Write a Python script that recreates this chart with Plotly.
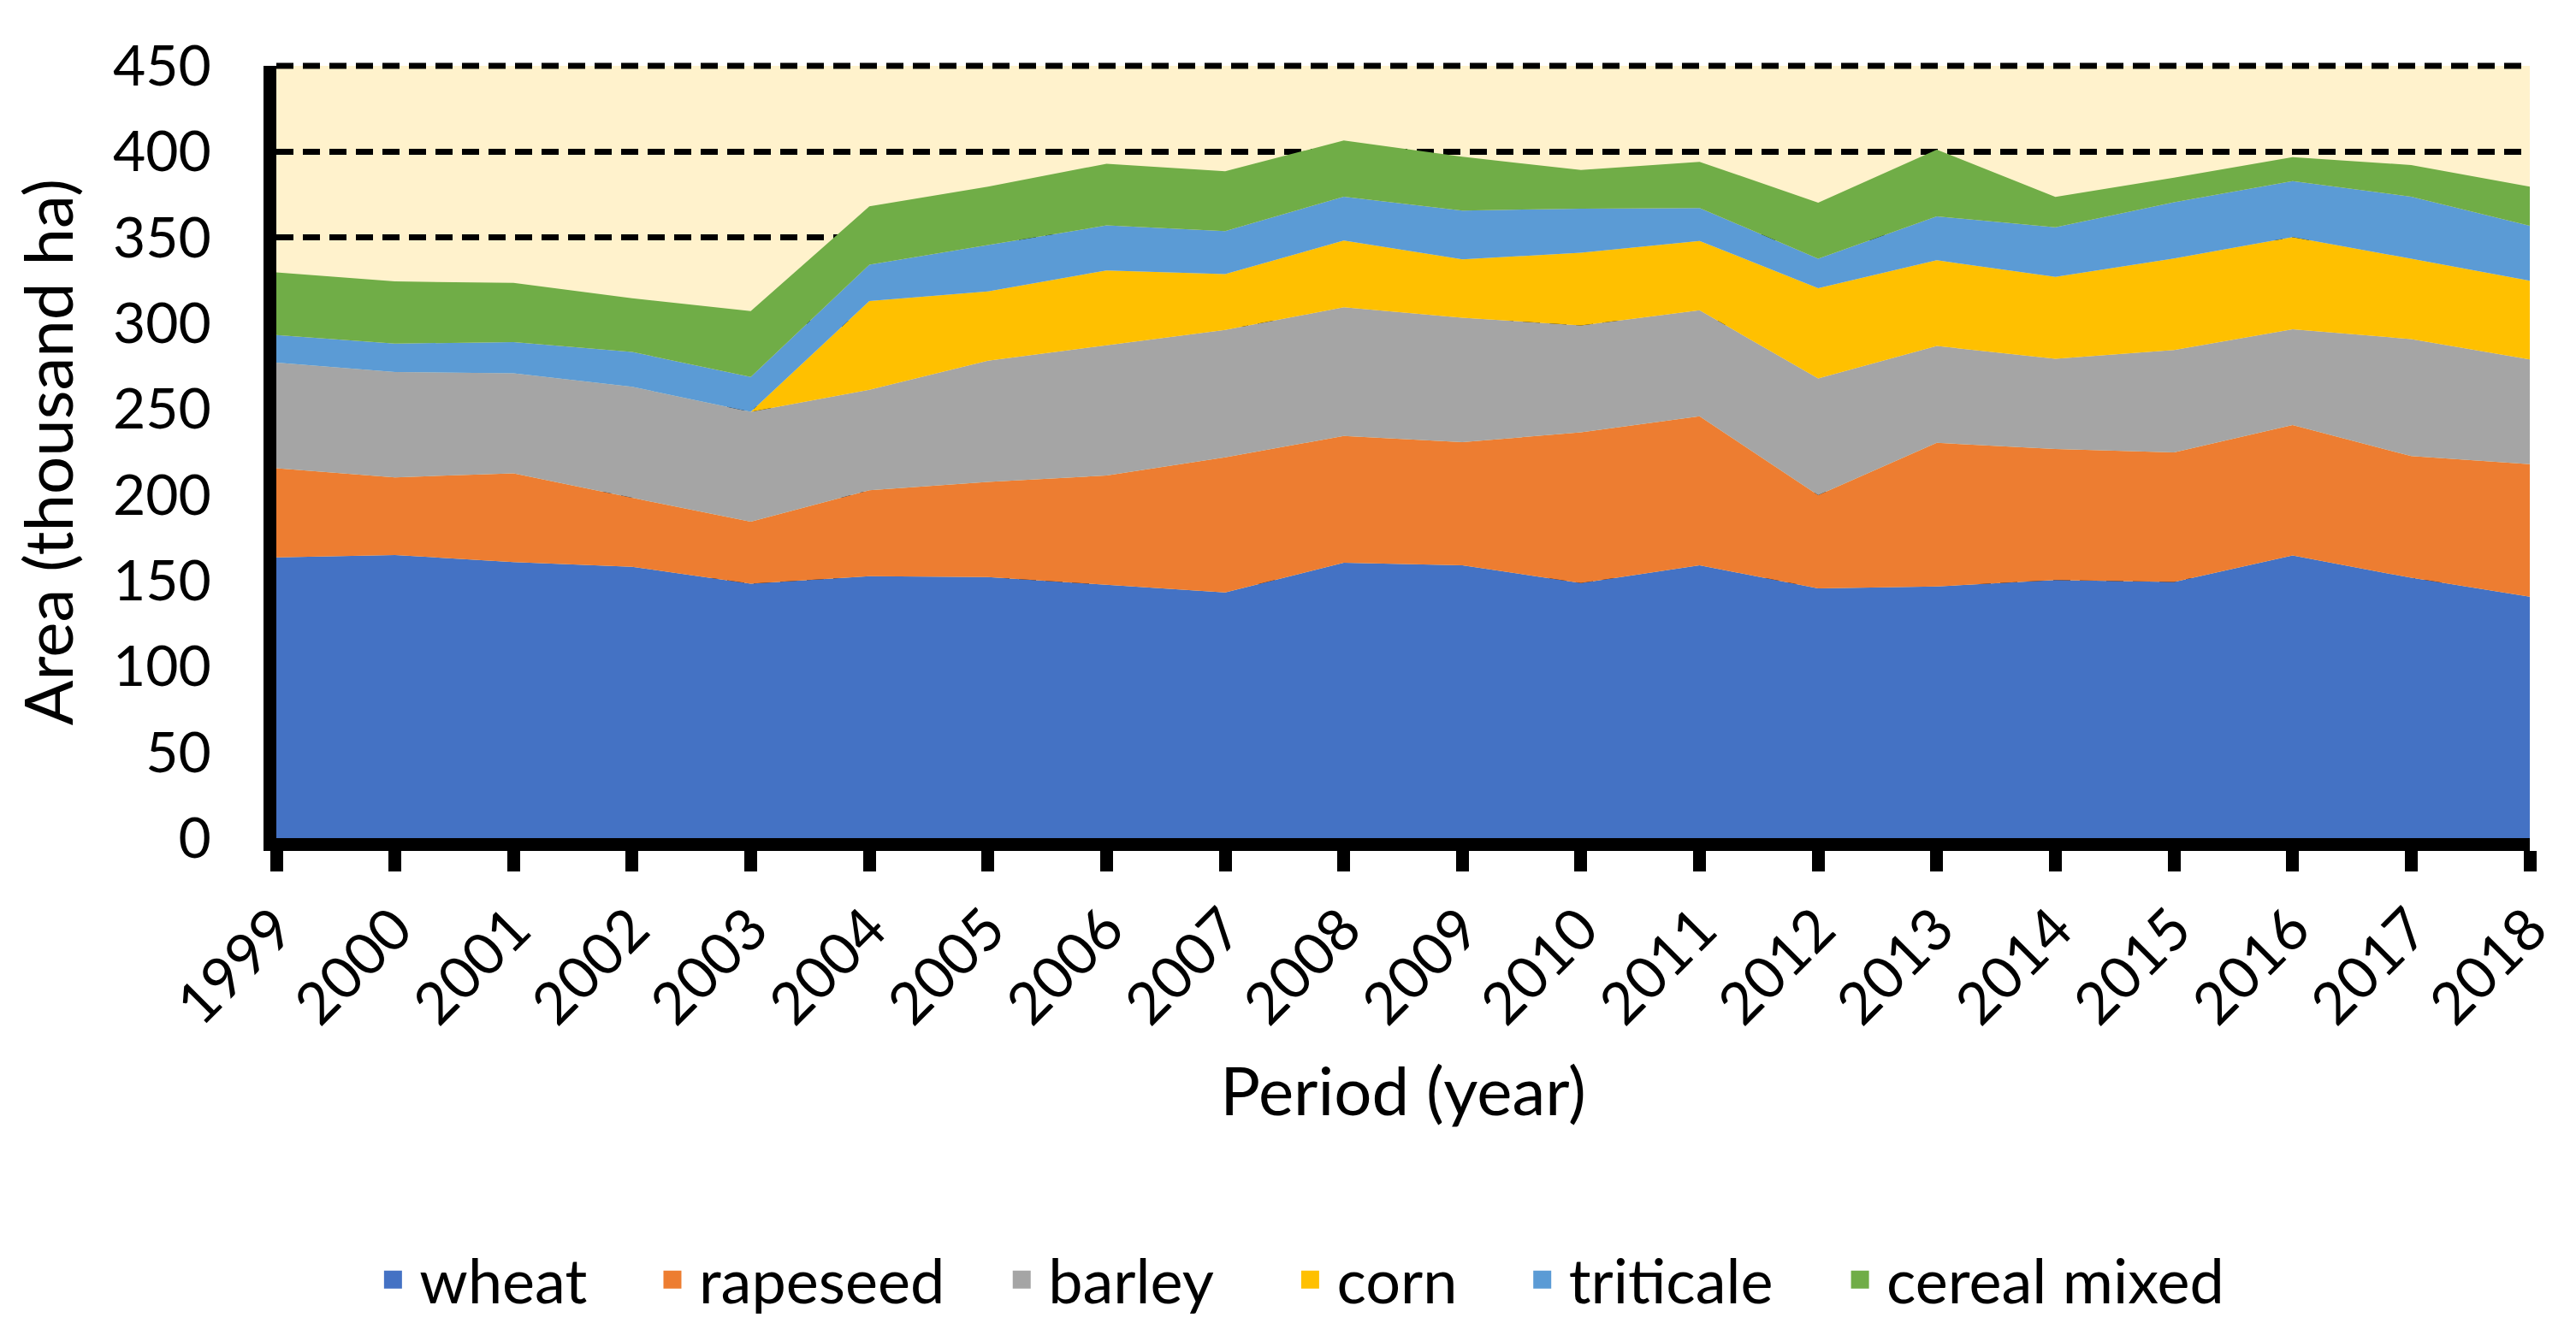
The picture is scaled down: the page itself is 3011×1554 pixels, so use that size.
import plotly.graph_objects as go

years = list(range(1999, 2019))

# areas in thousand ha
wheat = [163.6, 165.0, 160.8, 158.1, 148.2, 152.6, 152.1, 147.5, 143.1, 160.5,
         159.0, 148.6, 159.0, 145.5, 146.6, 150.4, 149.3, 164.7, 151.7, 140.7]
rapeseed = [51.9, 45.2, 51.8, 40.2, 36.2, 50.1, 55.5, 63.8, 78.8, 73.8,
            71.7, 87.9, 86.8, 54.3, 83.7, 76.4, 75.5, 76.0, 70.9, 77.2]
barley = [61.6, 61.4, 58.3, 64.7, 64.0, 58.5, 70.6, 75.8, 74.2, 75.1,
          72.5, 62.3, 61.8, 68.0, 56.5, 52.5, 59.6, 55.8, 68.2, 61.0]
corn = [0, 0, 0, 0, 0, 51.7, 40.4, 43.7, 32.5, 38.8,
        34.0, 42.3, 40.4, 52.6, 49.9, 47.7, 53.4, 53.7, 46.8, 45.9]
triticale = [16.1, 16.6, 18.1, 20.3, 20.3, 21.2, 27.0, 26.2, 25.1, 25.6,
             28.5, 25.7, 19.2, 17.2, 25.6, 28.9, 32.7, 32.7, 36.2, 32.0]
cereal_mixed = [36.5, 36.2, 34.5, 31.3, 38.4, 34.0, 34.0, 36.0, 34.9, 32.7,
                31.3, 22.5, 26.9, 32.7, 38.9, 17.7, 14.4, 13.9, 18.4, 22.8]

names = ['wheat', 'rapeseed', 'barley', 'corn', 'triticale', 'cereal mixed']
values = [wheat, rapeseed, barley, corn, triticale, cereal_mixed]
colors = ['#4472C4', '#ED7D31', '#A5A5A5', '#FFC000', '#5B9BD5', '#70AD47']

# left edge of each legend entry (paper x), one legend per series
legend_x = [0.040, 0.164, 0.319, 0.447, 0.550, 0.691]

fig = go.Figure()
for name, vals, col in zip(names, values, colors):
    fig.add_trace(go.Scatter(
        x=years, y=vals, name=name,
        mode='lines', stackgroup='one',
        line=dict(width=0, color=col),
        fillcolor=col, showlegend=False))

# square swatches for the legend
legends = {}
for i, (name, col) in enumerate(zip(names, colors)):
    key = 'legend' if i == 0 else 'legend%d' % (i + 1)
    fig.add_trace(go.Scatter(
        x=[None], y=[None], name=name, mode='markers',
        marker=dict(symbol='square', size=40, color=col,
                    line=dict(width=5, color=col)),
        legend=key, showlegend=True))
    legends[key] = dict(orientation='h', x=legend_x[i], xanchor='left',
                        y=-0.572, yanchor='middle',
                        font=dict(size=72, color='black'),
                        itemwidth=52, bgcolor='rgba(0,0,0,0)')

fig.update_layout(
    width=3011, height=1554,
    margin=dict(l=315, r=62, t=69, b=576),
    plot_bgcolor='#FFF2CC',
    paper_bgcolor='white',
    font=dict(family='Lato', size=64, color='black'),
    showlegend=True,
    **legends)

# top gridline sits on the plot edge, draw it explicitly (paper refs so it is not clipped)
fig.add_shape(type='line', xref='paper', x0=0, x1=1, yref='paper', y0=1, y1=1,
              line=dict(color='black', width=7, dash='20px,11px'), layer='above')

fig.update_xaxes(
    range=[1999, 2018], tickvals=years, ticktext=[str(y) for y in years],
    tickangle=-45, tickfont=dict(size=68),
    showline=True, linecolor='black', linewidth=15,
    ticks='outside', ticklen=24, tickwidth=15, tickcolor='black',
    showgrid=False, zeroline=False,
    title=dict(text='Period (year)', font=dict(size=78), standoff=45),
    automargin=False)

fig.update_yaxes(
    range=[0, 450], dtick=50,
    tickfont=dict(size=66),
    showline=True, linecolor='black', linewidth=15,
    ticks='', ticklabelstandoff=48,
    showgrid=True, gridcolor='black', gridwidth=7, griddash='20px,11px',
    zeroline=False,
    title=dict(text='Area (thousand ha)', font=dict(size=78), standoff=30),
    automargin=False)

fig.write_html("out.html")
